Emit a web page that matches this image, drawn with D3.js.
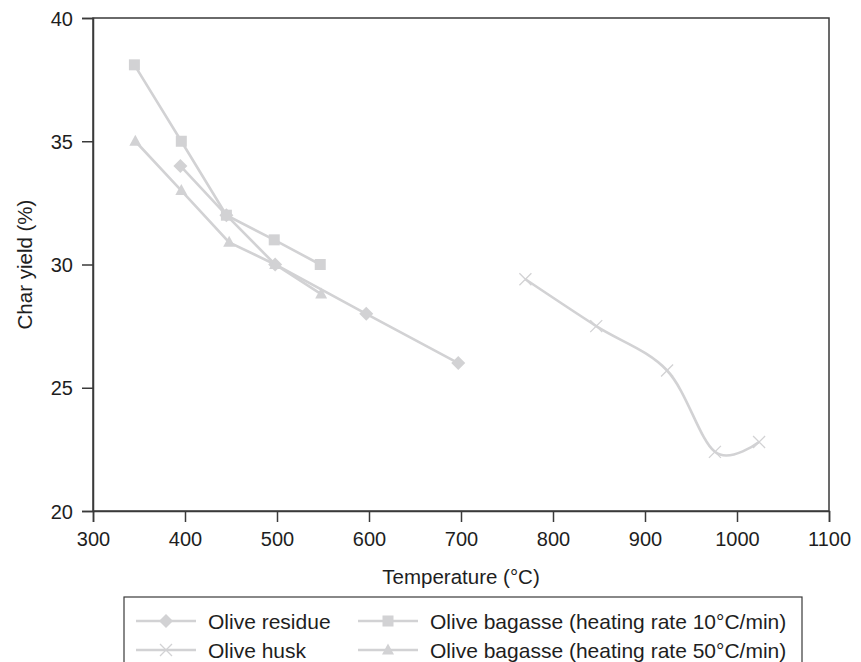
<!DOCTYPE html>
<html><head><meta charset="utf-8">
<script src="https://cdn.jsdelivr.net/npm/d3@7"></script>
<style>
html,body{margin:0;padding:0;background:#fff;}
svg{display:block;font-family:"Liberation Sans",Arial,Helvetica,sans-serif;}
</style></head>
<body><svg id="c" width="861" height="662"></svg>
<script>
// Data
const residueX = [395, 445, 498, 597, 697];
const residueY = [34, 32, 30, 28, 26];
const huskX = [770, 847, 924, 976, 1024];
const huskY = [29.4, 27.5, 25.7, 22.4, 22.8];
const bag10X = [345, 396, 445, 497, 547];
const bag10Y = [38.1, 35, 32, 31, 30];
const bag50X = [346, 396, 448, 498, 548];
const bag50Y = [35, 33, 30.9, 30, 28.8];
const xTicks = [300, 400, 500, 600, 700, 800, 900, 1000, 1100];
const yTicks = [20, 25, 30, 35, 40];
const seriesNames = ["Olive residue", "Olive husk", "Olive bagasse (heating rate 10\u00B0C/min)", "Olive bagasse (heating rate 50\u00B0C/min)"];

const series = [
  {name: seriesNames[0], xs: residueX, ys: residueY, sym: "diamond", smooth: false},
  {name: seriesNames[1], xs: huskX, ys: huskY, sym: "cross", smooth: true},
  {name: seriesNames[2], xs: bag10X, ys: bag10Y, sym: "square", smooth: false},
  {name: seriesNames[3], xs: bag50X, ys: bag50Y, sym: "triangle", smooth: false}
];

const col = "#d2d2d4";
const axisCol = "#3a3a3a";
const txtCol = "#1e1e1e";
const svg = d3.select("#c");
const L = 93, R = 829, T = 18, B = 511;
const x = d3.scaleLinear().domain([300, 1100]).range([L, R]);
const y = d3.scaleLinear().domain([20, 40]).range([B, T]);

// frame
svg.append("rect").attr("x", L).attr("y", T).attr("width", R - L).attr("height", B - T)
  .attr("fill", "none").attr("stroke", axisCol).attr("stroke-width", 1.5);

const xAxis = svg.append("g").attr("transform", `translate(0,${B})`)
  .call(d3.axisBottom(x).tickValues(xTicks).tickSize(11).tickPadding(10).tickFormat(d3.format("d")));
const yAxis = svg.append("g").attr("transform", `translate(${L},0)`)
  .call(d3.axisLeft(y).tickValues(yTicks).tickSize(11).tickPadding(9).tickFormat(d3.format("d")));
[xAxis, yAxis].forEach(g => {
  g.select(".domain").attr("stroke", axisCol).attr("stroke-width", 1.5);
  g.selectAll(".tick line").attr("stroke", axisCol).attr("stroke-width", 1.5);
  g.selectAll(".tick text").attr("fill", txtCol).style("font-size", "20px")
    .style("font-family", "'Liberation Sans', Arial, sans-serif");
});
yAxis.selectAll(".tick text").attr("dy", "0.36em");

svg.append("text").attr("x", (L + R) / 2).attr("y", 584).attr("text-anchor", "middle")
  .attr("fill", txtCol).style("font-size", "20.5px").text("Temperature (\u00B0C)");
svg.append("text").attr("transform", `translate(32,${(T + B) / 2}) rotate(-90)`)
  .attr("text-anchor", "middle").attr("fill", txtCol).style("font-size", "20.5px").text("Char yield (%)");

function marker(g, sym, cx, cy) {
  if (sym === "diamond") {
    g.append("path").attr("d", `M${cx},${cy-7}L${cx+7},${cy}L${cx},${cy+7}L${cx-7},${cy}Z`).attr("fill", col);
  } else if (sym === "square") {
    g.append("rect").attr("x", cx - 5.5).attr("y", cy - 5.5).attr("width", 11).attr("height", 11).attr("fill", col);
  } else if (sym === "triangle") {
    g.append("path").attr("d", `M${cx},${cy-6.5}L${cx+6},${cy+4.5}L${cx-6},${cy+4.5}Z`).attr("fill", col);
  } else {
    g.append("path").attr("d", `M${cx-6},${cy-6}L${cx+6},${cy+6}M${cx-6},${cy+6}L${cx+6},${cy-6}`)
      .attr("stroke", col).attr("stroke-width", 1.3).attr("fill", "none");
  }
}

const plot = svg.append("g");
series.forEach(s => {
  const pts = s.xs.map((v, i) => [x(v), y(s.ys[i])]);
  const line = d3.line().curve(s.smooth ? d3.curveCardinal.tension(0) : d3.curveLinear);
  plot.append("path").attr("d", line(pts)).attr("fill", "none").attr("stroke", col).attr("stroke-width", 2.6);
  const mg = plot.append("g");
  pts.forEach(p => marker(mg, s.sym, p[0], p[1]));
});

// legend
const lg = svg.append("g");
lg.append("rect").attr("x", 124).attr("y", 597).attr("width", 678).attr("height", 80)
  .attr("fill", "#fff").attr("stroke", axisCol).attr("stroke-width", 1.2);
const legendItems = [
  {s: series[0], lx: 136, ly: 621},
  {s: series[1], lx: 136, ly: 650},
  {s: series[2], lx: 358, ly: 621},
  {s: series[3], lx: 358, ly: 650}
];
legendItems.forEach(it => {
  lg.append("line").attr("x1", it.lx).attr("x2", it.lx + 60).attr("y1", it.ly).attr("y2", it.ly)
    .attr("stroke", col).attr("stroke-width", 2.6);
  marker(lg, it.s.sym, it.lx + 30, it.ly);
  lg.append("text").attr("x", it.lx + 72).attr("y", it.ly).attr("dy", "0.36em")
    .attr("fill", txtCol).style("font-size", "21px").text(it.s.name);
});
</script></body></html>
